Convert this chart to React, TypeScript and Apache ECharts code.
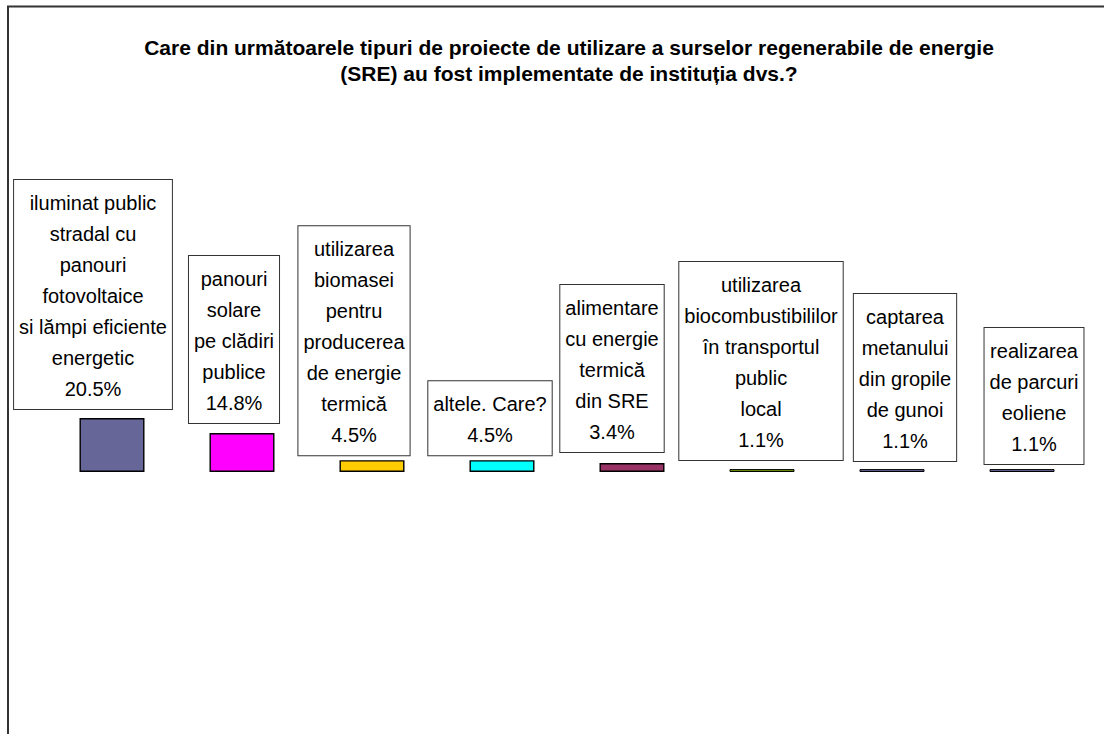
import React, { useEffect, useRef } from "react";
import * as echarts from "echarts";

const titleText =
  "Care din următoarele tipuri de proiecte de utilizare a surselor regenerabile de energie\n(SRE) au fost implementate de instituția dvs.?";

const categories = [
  "iluminat public\nstradal cu\npanouri\nfotovoltaice\nsi lămpi eficiente\nenergetic",
  "panouri\nsolare\npe clădiri\npublice",
  "utilizarea\nbiomasei\npentru\nproducerea\nde energie\ntermică",
  "altele. Care?",
  "alimentare\ncu energie\ntermică\ndin SRE",
  "utilizarea\nbiocombustibililor\nîn transportul\npublic\nlocal",
  "captarea\nmetanului\ndin gropile\nde gunoi",
  "realizarea\nde parcuri\neoliene",
];

const percentages = [20.5, 14.8, 4.5, 4.5, 3.4, 1.1, 1.1, 1.1];

const barColors = [
  "#666699",
  "#FF00FF",
  "#FFCC00",
  "#00FFFF",
  "#993366",
  "#669900",
  "#666699",
  "#666699",
];

// label box placement relative to each bar (style only)
const labelOffsets: [number, number][] = [
  [-19, -9],
  [-8, -10],
  [-18, -5],
  [-12, -5],
  [-20, -11],
  [-1, -9],
  [13, -8],
  [12, -5],
];

const FONT = "Liberation Sans, Arial, Helvetica, sans-serif";

export default function App() {
  const ref = useRef<HTMLDivElement>(null);

  useEffect(() => {
    if (!ref.current) return;
    const chart = echarts.init(ref.current, undefined, { renderer: "svg" });

    const data = percentages.map((v, i) => ({
      value: v,
      itemStyle: { color: barColors[i], borderWidth: v < 2 ? 1 : 1.4 },
      label: { offset: labelOffsets[i] },
    }));

    chart.setOption({
      animation: false,
      backgroundColor: "#ffffff",
      title: {
        text: titleText,
        left: 569,
        textAlign: "center",
        top: 34,
        padding: 0,
        textStyle: {
          fontFamily: FONT,
          fontSize: 21,
          fontWeight: "bold",
          color: "#000",
          lineHeight: 26,
        },
      },
      graphic: [
        {
          type: "rect",
          silent: true,
          z: -10,
          shape: { x: 8, y: 6.5, width: 1200, height: 800 },
          style: { fill: "none", stroke: "#333", lineWidth: 2 },
        },
      ],
      grid: { left: 47, right: 17, top: 208.6, bottom: 262, containLabel: false },
      xAxis: {
        type: "category",
        data: categories,
        show: false,
      },
      yAxis: {
        type: "value",
        min: 0,
        max: 100,
        show: false,
        splitLine: { show: false },
      },
      series: [
        {
          type: "bar",
          data,
          barWidth: "50%",
          itemStyle: { borderColor: "#000", borderWidth: 1.4 },
          label: {
            show: true,
            position: "top",
            distance: 0,
            formatter: (p: any) => `${p.name}\n${p.value.toFixed(1)}%`,
            fontFamily: FONT,
            fontSize: 20,
            lineHeight: 31,
            color: "#000",
            align: "center",
            backgroundColor: "#fff",
            borderColor: "#333",
            borderWidth: 1,
            padding: [7, 5, 5, 5],
          },
        },
      ],
    });

    return () => chart.dispose();
  }, []);

  return (
    <div
      ref={ref}
      style={{ position: "absolute", left: 0, top: 0, width: 1104, height: 734 }}
    />
  );
}
